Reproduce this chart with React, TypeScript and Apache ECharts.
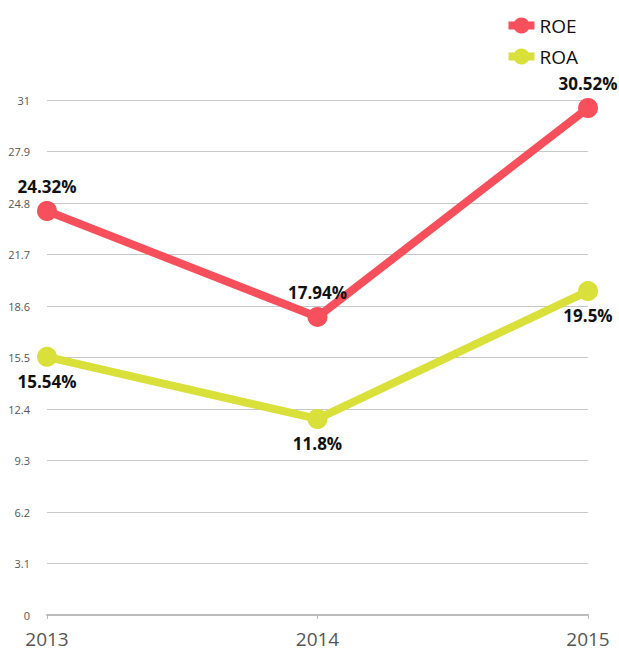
import React, { useEffect, useRef } from "react";
import * as echarts from "echarts";

const categories = ["2013", "2014", "2015"];
const roe = [24.32, 17.94, 30.52];
const roa = [15.54, 11.8, 19.5];

export default function App() {
  const ref = useRef<HTMLDivElement>(null);
  useEffect(() => {
    if (!ref.current) return;
    const chart = echarts.init(ref.current, null, { renderer: "svg" });
    const font = "'Open Sans', 'Noto Sans', sans-serif";
    chart.setOption({
      animation: false,
      textStyle: { fontFamily: font },
      legend: {
        orient: "vertical",
        right: 36,
        top: 11,
        itemWidth: 26,
        itemHeight: 20,
        itemGap: 12,
        lineStyle: { width: 8 },
        textStyle: { fontSize: 19, color: "#111", fontFamily: font },
        data: ["ROE", "ROA"],
      },
      grid: { left: 47, right: 31, top: 100, bottom: 37, containLabel: false },
      xAxis: {
        type: "category",
        boundaryGap: false,
        data: categories,
        axisLine: { lineStyle: { color: "#bbb", width: 2 } },
        axisTick: { show: true, alignWithLabel: true, length: 4, lineStyle: { color: "#bbb" } },
        axisLabel: { fontSize: 19, color: "#555", margin: 14, fontFamily: font },
      },
      yAxis: {
        type: "value",
        min: 0,
        max: 31,
        interval: 3.1,
        axisLine: { show: false },
        axisTick: { show: false },
        axisLabel: { fontSize: 11, color: "#555", margin: 17, fontFamily: font },
        splitLine: { lineStyle: { color: "#c8c8c8", width: 1 } },
      },
      series: [
        {
          name: "ROE",
          type: "line",
          data: roe,
          symbol: "circle",
          symbolSize: 20,
          lineStyle: { width: 8, color: "#f74f5b" },
          itemStyle: { color: "#f74f5b" },
          label: {
            show: true,
            position: "top",
            distance: 6,
            formatter: "{c}%",
            fontSize: 17,
            fontWeight: "bold",
            color: "#111",
            fontFamily: font,
          },
        },
        {
          name: "ROA",
          type: "line",
          data: roa,
          symbol: "circle",
          symbolSize: 20,
          lineStyle: { width: 8, color: "#d9e03a" },
          itemStyle: { color: "#d9e03a" },
          label: {
            show: true,
            position: "bottom",
            distance: 6,
            formatter: "{c}%",
            fontSize: 17,
            fontWeight: "bold",
            color: "#111",
            fontFamily: font,
          },
        },
      ],
    });
    return () => chart.dispose();
  }, []);
  return <div ref={ref} style={{ width: 619, height: 652, position: "absolute", left: 0, top: 0 }} />;
}
